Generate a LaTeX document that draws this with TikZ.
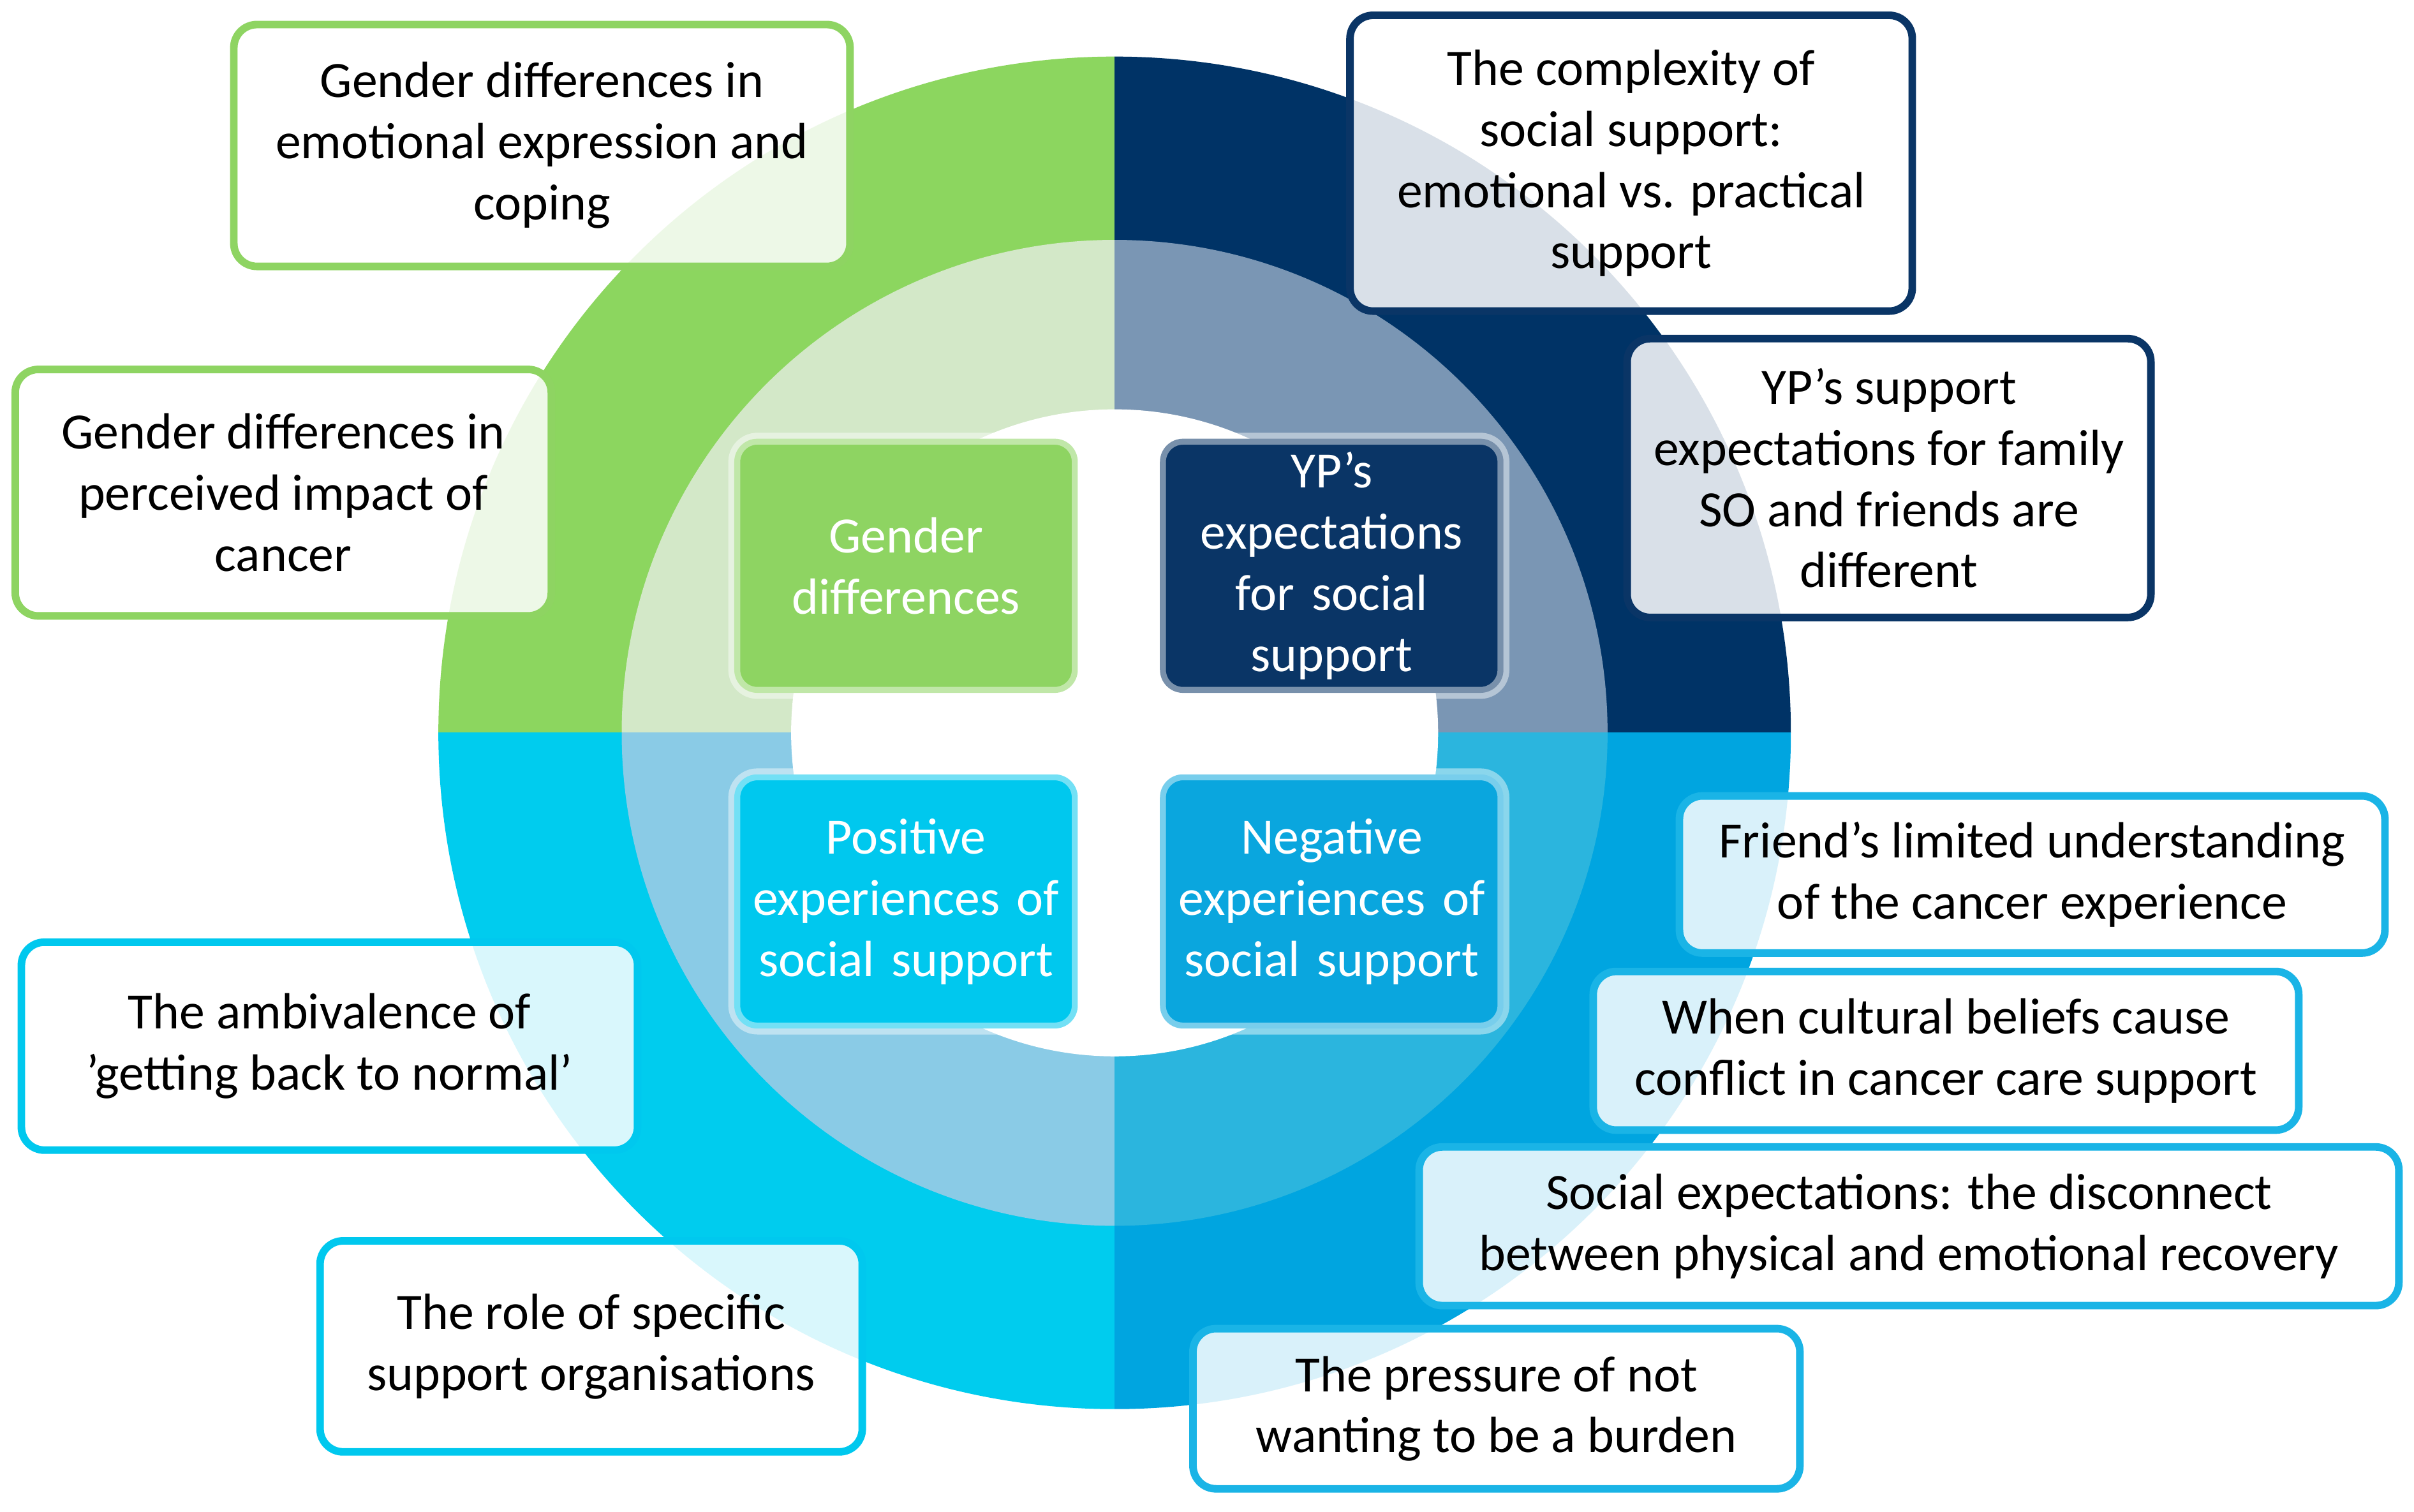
\documentclass[tikz,border=0pt]{standalone}
\usepackage{fontspec}
\setmainfont{Carlito}
\begin{document}
\begin{tikzpicture}[x=0.01cm,y=-0.01cm,
  ob/.style={draw=#1,line width=1.4pt,rounded corners=0.15cm,fill=white,fill opacity=0.85,text opacity=1,
    align=center,inner sep=0pt,font=\fontsize{9.4}{11.3}\selectfont,text=black},
  ib/.style={fill=#1,draw=white,draw opacity=0.45,line width=2.2pt,rounded corners=0.15cm,
    minimum width=2.23cm,minimum height=1.65cm,text width=2.1cm,align=center,inner sep=0pt,
    font=\fontsize{9.4}{11.3}\selectfont,text=white}]
\definecolor{gO}{HTML}{8CD65F}\definecolor{gM}{HTML}{D3E8C8}\definecolor{gB}{HTML}{8ED462}
\definecolor{nO}{HTML}{003366}\definecolor{nM}{HTML}{7A96B4}\definecolor{nB}{HTML}{0A3566}
\definecolor{cO}{HTML}{00CCEE}\definecolor{cM}{HTML}{8ACBE6}\definecolor{cB}{HTML}{00C8EE}
\definecolor{bO}{HTML}{00A5E0}\definecolor{bM}{HTML}{2BB5DE}\definecolor{bB}{HTML}{0AA6DE}
\definecolor{bL}{HTML}{1AB4E6}
\useasboundingbox (0,0) rectangle (1568,982);
\fill[white] (0,0) rectangle (1568,982);
\coordinate (C) at (724,476);
\begin{scope}\clip (724,476) rectangle (0,0);
 \fill[gO] (C) circle[radius=4.39cm]; \fill[gM] (C) circle[radius=3.2cm];\end{scope}
\begin{scope}\clip (724,476) rectangle (1568,0);
 \fill[nO] (C) circle[radius=4.39cm]; \fill[nM] (C) circle[radius=3.2cm];\end{scope}
\begin{scope}\clip (724,476) rectangle (0,982);
 \fill[cO] (C) circle[radius=4.39cm]; \fill[cM] (C) circle[radius=3.2cm];\end{scope}
\begin{scope}\clip (724,476) rectangle (1568,982);
 \fill[bO] (C) circle[radius=4.39cm]; \fill[bM] (C) circle[radius=3.2cm];\end{scope}
\fill[white] (C) circle[radius=2.1cm];
\node[ib=gB] (g) at (588.5,367.5) {Gender\\differences};
\node[ib=nB] (y) at (865,367.5) {YP's\\expectations\\for social\\support};
\node[ib=cB] (p) at (588.5,585.5) {Positive\\experiences of\\social support};
\node[ib=bB] (n) at (865,585.5) {Negative\\experiences of\\social support};
\node[ob=gB,minimum width=4cm,minimum height=1.57cm] (o1) at (352,94.5) {Gender differences in\\emotional expression and\\coping};
\node[ob=gB,minimum width=3.48cm,minimum height=1.6cm] (o2) at (184,320) {Gender differences in\\perceived impact of\\cancer};
\node[ob=nB,minimum width=3.65cm,minimum height=1.92cm] (o3) at (1059.5,106) {The complexity of\\social support:\\emotional vs. practical\\support};
\node[ob=nB,minimum width=3.4cm,minimum height=1.81cm] (o4) at (1227,310.5) {YP's support\\expectations for family\\SO and friends are\\different};
\node[ob=bL,minimum width=4.58cm,minimum height=1.02cm] (o5) at (1320,568) {Friend's limited understanding\\of the cancer experience};
\node[ob=bL,minimum width=4.58cm,minimum height=1.03cm] (o6) at (1264,682.5) {When cultural beliefs cause\\conflict in cancer care support};
\node[ob=bL,minimum width=6.36cm,minimum height=1.03cm] (o7) at (1240,796.5) {Social expectations: the disconnect\\between physical and emotional recovery};
\node[ob=bL,minimum width=3.94cm,minimum height=1.04cm] (o8) at (972,915) {The pressure of not\\wanting to be a burden};
\node[ob=cB,minimum width=4cm,minimum height=1.35cm] (o9) at (214,679.5) {The ambivalence of\\'getting back to normal'};
\node[ob=cB,minimum width=3.52cm,minimum height=1.37cm] (o10) at (384,874.5) {The role of specific\\support organisations};
\end{tikzpicture}
\end{document}
